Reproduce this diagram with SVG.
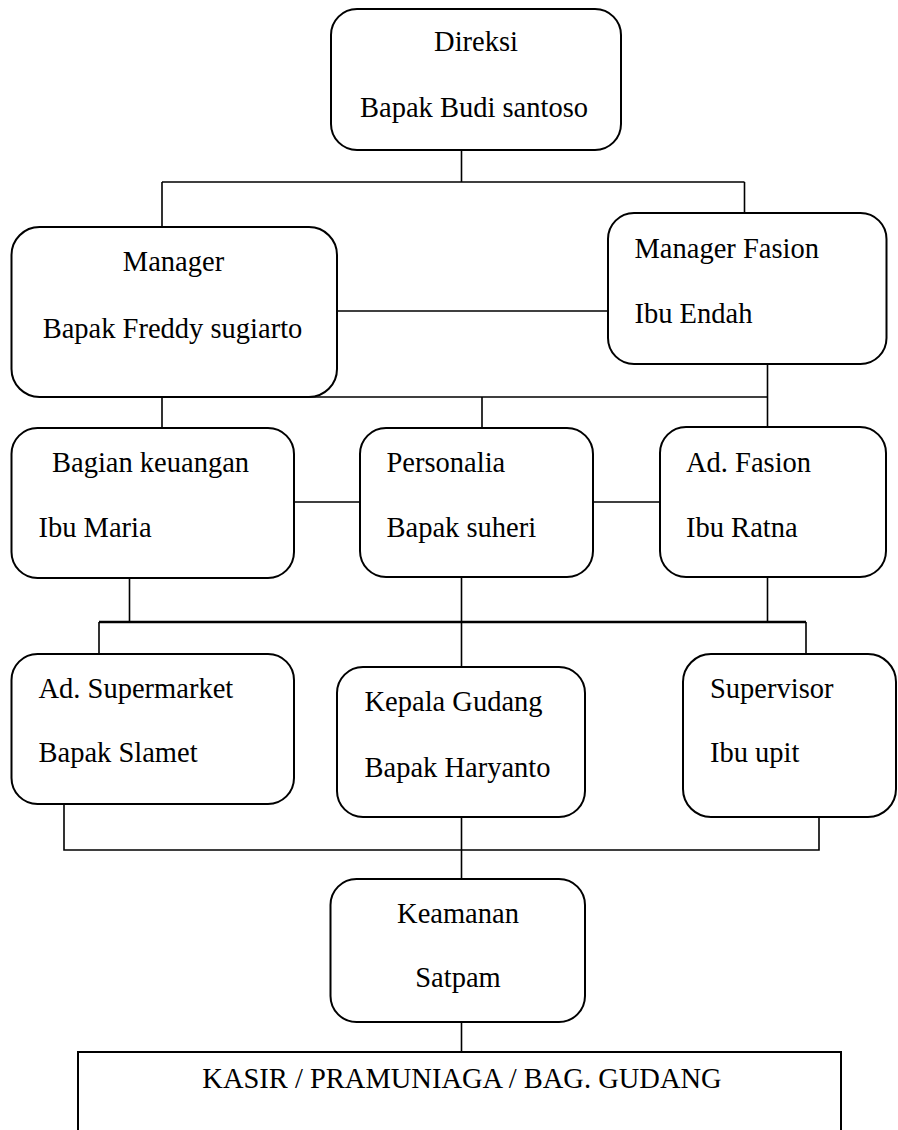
<svg xmlns="http://www.w3.org/2000/svg" width="898" height="1130" viewBox="0 0 898 1130">
<style>
.box{fill:#fff;stroke:#000;stroke-width:2}
.ln{fill:none;stroke:#000;stroke-width:1.6}
text{font-family:"Liberation Serif","Times New Roman",serif;font-size:28.5px;fill:#000}
.c{text-anchor:middle}
</style>
<rect width="898" height="1130" fill="#fff"/>
<g id="connectors">
<path class="ln" d="M461.5,150 V182 M162,182 H744.5 M162,182 V227 M744.5,182 V213"/>
<path class="ln" d="M337,311 H608"/>
<path class="ln" d="M767.5,364 V428 M130,397 H767.5 M162,397 V428 M482,397 V428"/>
<path class="ln" d="M294,502 H360 M593,502 H660"/>
<path class="ln" d="M129.5,578 V622 M767.5,577 V622 M461.5,577 V667 M99,654 V622 M806,622 V654"/>
<path d="M99,622 H806" fill="none" stroke="#000" stroke-width="2.6"/>
<path class="ln" d="M64,804 V850 H819 V817 M461.5,817 V879 M461.5,1022 V1052"/>
</g>
<g id="n-direksi">
<rect class="box" x="331" y="9" width="290" height="141" rx="26"/>
<text class="c" x="476" y="51">Direksi</text>
<text class="c" x="474" y="117">Bapak Budi santoso</text>
</g>
<g id="n-manager">
<rect class="box" x="11.5" y="227" width="325.5" height="170" rx="28"/>
<text class="c" x="173.5" y="271">Manager</text>
<text class="c" x="172.5" y="337.5">Bapak Freddy sugiarto</text>
</g>
<g id="n-manager-fasion">
<rect class="box" x="608" y="213" width="278.5" height="151" rx="26"/>
<text x="634.5" y="257.5">Manager Fasion</text>
<text x="634.5" y="322.5">Ibu Endah</text>
</g>
<g id="n-keuangan">
<rect class="box" x="11.5" y="428" width="282.5" height="150" rx="26"/>
<text x="52" y="471.5">Bagian keuangan</text>
<text x="38.5" y="536.5">Ibu Maria</text>
</g>
<g id="n-personalia">
<rect class="box" x="360" y="428" width="233" height="149" rx="26"/>
<text x="386.5" y="471.5">Personalia</text>
<text x="386.5" y="536.5">Bapak suheri</text>
</g>
<g id="n-ad-fasion">
<rect class="box" x="660" y="427" width="226" height="150" rx="26"/>
<text x="686" y="471.5">Ad. Fasion</text>
<text x="686" y="536.5">Ibu Ratna</text>
</g>
<g id="n-ad-supermarket">
<rect class="box" x="11.5" y="654" width="282.5" height="150" rx="26"/>
<text x="38.5" y="697.5">Ad. Supermarket</text>
<text x="38.5" y="762">Bapak Slamet</text>
</g>
<g id="n-kepala-gudang">
<rect class="box" x="337" y="667" width="248" height="150" rx="26"/>
<text x="364.5" y="710.5">Kepala Gudang</text>
<text x="364.5" y="776.5">Bapak Haryanto</text>
</g>
<g id="n-supervisor">
<rect class="box" x="683" y="654" width="213" height="163" rx="28"/>
<text x="710" y="697.5">Supervisor</text>
<text x="710" y="762">Ibu upit</text>
</g>
<g id="n-keamanan">
<rect class="box" x="330.5" y="879" width="254.5" height="143" rx="26"/>
<text class="c" x="458" y="922.5">Keamanan</text>
<text class="c" x="458" y="987">Satpam</text>
</g>
<g id="n-kasir">
<rect class="box" x="78" y="1052" width="763" height="100"/>
<text class="c" x="462" y="1088">KASIR / PRAMUNIAGA / BAG. GUDANG</text>
</g>
</svg>
